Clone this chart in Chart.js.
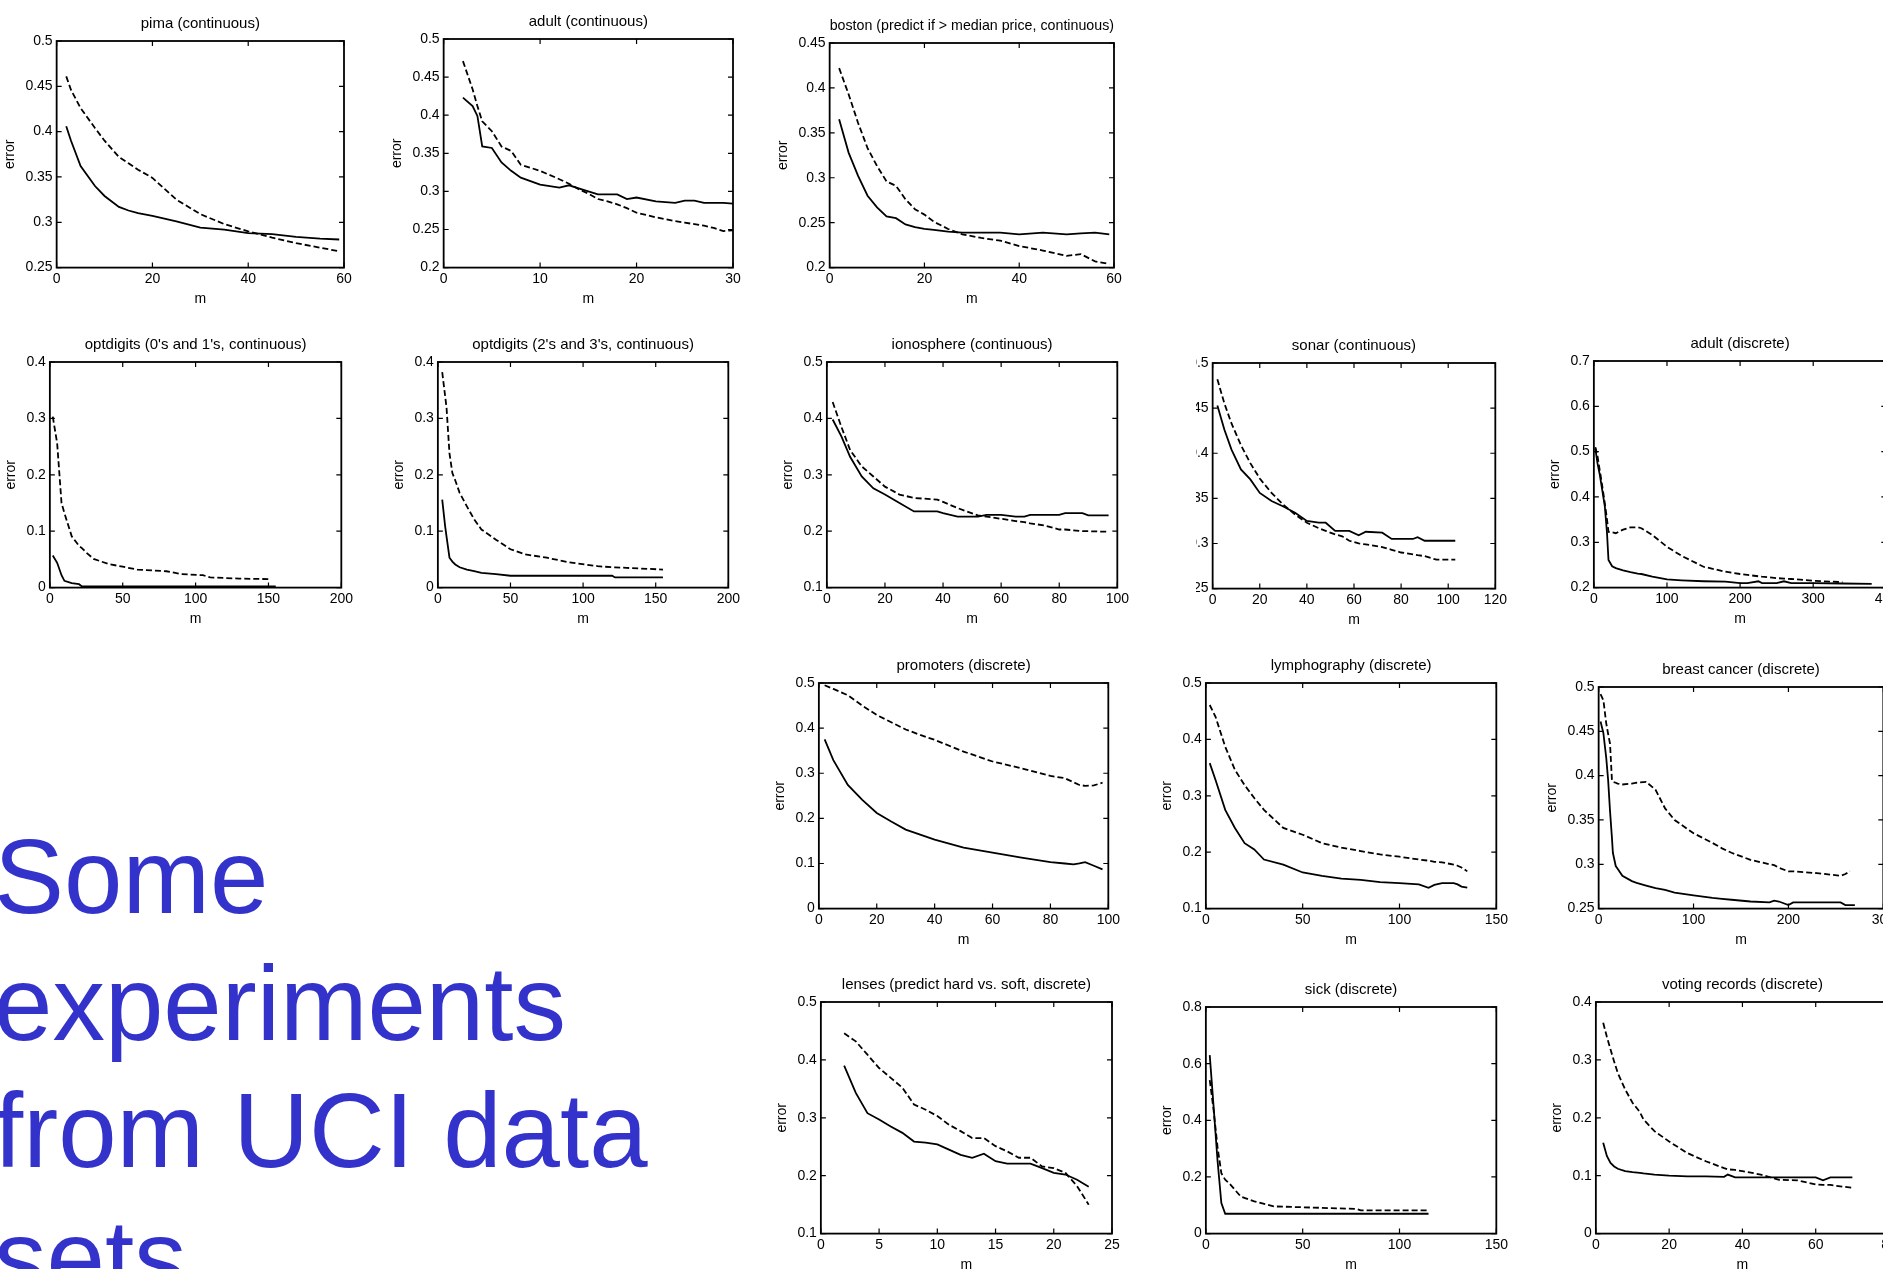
<!DOCTYPE html>
<html>
<head>
<meta charset="utf-8">
<title>Some experiments from UCI data sets</title>
<script src="https://cdn.jsdelivr.net/npm/chart.js@4.4.1/dist/chart.umd.min.js"></script>
<style>
html, body { margin: 0; padding: 0; overflow: hidden; background: #fff; width: 1883px; height: 1269px; }
.panel { position: absolute; }
.panel canvas { display: block; }
#headline {
    position: absolute; left: -6px; top: 813px; width: 680px;
    font-family: "Liberation Sans", Arial, sans-serif;
    font-size: 105px; line-height: 127px; color: #3333cc;
}
</style>
</head>
<body>
<div id="headline">Some experiments from UCI data sets</div>
<script>
// ---- data (m = number of training examples) ----
const pimaM = [2, 3, 5, 8, 10, 13, 15, 17, 20, 25, 30, 35, 40, 45, 50, 55, 59];
const pimaSolid = [0.406, 0.39, 0.362, 0.34, 0.329, 0.317, 0.313, 0.31, 0.307, 0.301, 0.294, 0.292, 0.288, 0.287, 0.284, 0.282, 0.281];
const pimaDashed = [0.461, 0.446, 0.426, 0.404, 0.39, 0.372, 0.365, 0.358, 0.349, 0.325, 0.309, 0.298, 0.29, 0.283, 0.277, 0.272, 0.268];
const pimaXTicks = [0, 20, 40, 60];
const pimaYTicks = [0.25, 0.3, 0.35, 0.4, 0.45, 0.5];

const adultcM = [2, 3, 3.5, 4, 5, 6, 7, 8, 10, 12, 13, 14, 15, 16, 17, 18, 19, 20, 22, 24, 25, 26, 27, 28, 29, 30];
const adultcSolid = [0.423, 0.412, 0.399, 0.359, 0.357, 0.338, 0.327, 0.318, 0.309, 0.305, 0.308, 0.304, 0.3, 0.296, 0.296, 0.296, 0.29, 0.292, 0.287, 0.285, 0.288, 0.288, 0.285, 0.285, 0.285, 0.284];
const adultcDashed = [0.471, 0.434, 0.412, 0.392, 0.379, 0.359, 0.353, 0.335, 0.327, 0.316, 0.31, 0.303, 0.297, 0.29, 0.287, 0.283, 0.278, 0.272, 0.266, 0.261, 0.259, 0.257, 0.255, 0.252, 0.248, 0.249];
const adultcXTicks = [0, 10, 20, 30];
const adultcYTicks = [0.2, 0.25, 0.3, 0.35, 0.4, 0.45, 0.5];

const bostonM = [2, 4, 6, 8, 10, 12, 14, 16, 18, 20, 22, 25, 28, 32, 36, 40, 45, 50, 53, 56, 59];
const bostonSolid = [0.365, 0.328, 0.302, 0.28, 0.267, 0.257, 0.255, 0.248, 0.245, 0.243, 0.242, 0.24, 0.239, 0.239, 0.239, 0.237, 0.239, 0.237, 0.238, 0.239, 0.237];
const bostonDashed = [0.422, 0.393, 0.361, 0.333, 0.313, 0.296, 0.291, 0.276, 0.265, 0.259, 0.251, 0.243, 0.237, 0.233, 0.23, 0.224, 0.219, 0.213, 0.215, 0.207, 0.204];
const bostonXTicks = [0, 20, 40, 60];
const bostonYTicks = [0.2, 0.25, 0.3, 0.35, 0.4, 0.45];

const opt01M = [2, 5, 8, 10, 15, 20, 22, 25, 30, 40, 50, 60, 80, 90, 105, 110, 130, 150, 155];
const opt01Solid = [0.057, 0.044, 0.022, 0.012, 0.008, 0.006, 0.002, 0.002, 0.002, 0.002, 0.002, 0.002, 0.002, 0.002, 0.002, 0.002, 0.002, 0.002, 0.002];
const opt01Dashed = [0.303, 0.256, 0.15, 0.132, 0.091, 0.074, 0.07, 0.062, 0.051, 0.042, 0.037, 0.032, 0.029, 0.024, 0.022, 0.018, 0.016, 0.015, null];
const opt01XTicks = [0, 50, 100, 150, 200];
const opt01YTicks = [0, 0.1, 0.2, 0.3, 0.4];

const opt23M = [3, 5, 6, 8, 10, 12, 15, 20, 25, 30, 40, 50, 60, 75, 90, 110, 120, 122, 130, 155];
const opt23Solid = [0.156, 0.109, 0.09, 0.053, 0.046, 0.041, 0.036, 0.032, 0.029, 0.026, 0.024, 0.021, 0.021, 0.021, 0.021, 0.021, 0.021, 0.018, 0.018, 0.018];
const opt23Dashed = [0.382, 0.34, 0.318, 0.238, 0.203, 0.19, 0.168, 0.144, 0.121, 0.103, 0.085, 0.068, 0.059, 0.053, 0.045, 0.038, 0.036, 0.036, 0.035, 0.032];
const opt23XTicks = [0, 50, 100, 150, 200];
const opt23YTicks = [0, 0.1, 0.2, 0.3, 0.4];

const ionoM = [2, 5, 8, 12, 16, 20, 25, 30, 38, 40, 45, 52, 55, 60, 65, 68, 70, 75, 80, 82, 88, 90, 97];
const ionoSolid = [0.398, 0.368, 0.332, 0.297, 0.276, 0.265, 0.25, 0.235, 0.235, 0.232, 0.226, 0.226, 0.229, 0.229, 0.226, 0.226, 0.229, 0.229, 0.229, 0.232, 0.232, 0.228, 0.228];
const ionoDashed = [0.429, 0.385, 0.344, 0.315, 0.297, 0.279, 0.265, 0.259, 0.256, 0.252, 0.241, 0.228, 0.226, 0.222, 0.218, 0.216, 0.214, 0.21, 0.203, 0.203, 0.2, 0.2, 0.199];
const ionoXTicks = [0, 20, 40, 60, 80, 100];
const ionoYTicks = [0.1, 0.2, 0.3, 0.4, 0.5];

const sonarM = [2, 5, 8, 12, 16, 20, 25, 30, 35, 40, 45, 48, 52, 55, 58, 62, 65, 72, 76, 80, 85, 87, 90, 95, 103];
const sonarSolid = [0.453, 0.426, 0.404, 0.382, 0.371, 0.356, 0.347, 0.341, 0.334, 0.325, 0.323, 0.323, 0.314, 0.314, 0.314, 0.309, 0.313, 0.312, 0.305, 0.305, 0.305, 0.307, 0.303, 0.303, 0.303];
const sonarDashed = [0.482, 0.455, 0.433, 0.409, 0.389, 0.372, 0.356, 0.343, 0.332, 0.323, 0.317, 0.314, 0.31, 0.308, 0.303, 0.3, 0.299, 0.296, 0.293, 0.29, 0.288, 0.287, 0.286, 0.282, 0.282];
const sonarXTicks = [0, 20, 40, 60, 80, 100, 120];
const sonarYTicks = [0.25, 0.3, 0.35, 0.4, 0.45, 0.5];

const adultdM = [2, 5, 8, 10, 15, 18, 20, 25, 30, 40, 50, 60, 65, 80, 100, 120, 150, 180, 200, 210, 225, 230, 250, 260, 270, 300, 340, 380];
const adultdSolid = [0.507, 0.474, 0.45, 0.43, 0.379, 0.32, 0.261, 0.247, 0.243, 0.238, 0.234, 0.231, 0.23, 0.224, 0.218, 0.216, 0.214, 0.213, 0.21, 0.21, 0.214, 0.21, 0.21, 0.214, 0.21, 0.21, 0.209, 0.208];
const adultdDashed = [0.51, 0.49, 0.459, 0.44, 0.386, 0.35, 0.323, 0.322, 0.32, 0.328, 0.333, 0.333, 0.331, 0.316, 0.29, 0.27, 0.246, 0.235, 0.23, 0.228, 0.225, 0.224, 0.221, 0.22, 0.219, 0.215, 0.212, null];
const adultdXTicks = [0, 100, 200, 300, 400];
const adultdYTicks = [0.2, 0.3, 0.4, 0.5, 0.6, 0.7];

const promM = [2, 5, 10, 15, 20, 25, 30, 35, 40, 50, 60, 70, 80, 85, 88, 90, 92, 95, 98];
const promSolid = [0.375, 0.329, 0.274, 0.241, 0.212, 0.193, 0.175, 0.164, 0.153, 0.135, 0.124, 0.113, 0.103, 0.1, 0.098, 0.1, 0.103, 0.095, 0.087];
const promDashed = [0.495, 0.487, 0.473, 0.45, 0.429, 0.413, 0.397, 0.385, 0.374, 0.348, 0.326, 0.311, 0.294, 0.289, 0.28, 0.274, 0.272, 0.273, 0.279];
const promXTicks = [0, 20, 40, 60, 80, 100];
const promYTicks = [0, 0.1, 0.2, 0.3, 0.4, 0.5];

const lymphM = [2, 5, 10, 15, 20, 25, 30, 40, 50, 60, 70, 80, 90, 100, 110, 115, 118, 122, 128, 130, 132, 135];
const lymphSolid = [0.358, 0.328, 0.275, 0.243, 0.216, 0.205, 0.187, 0.178, 0.164, 0.158, 0.153, 0.151, 0.147, 0.145, 0.143, 0.137, 0.142, 0.145, 0.145, 0.143, 0.139, 0.137];
const lymphDashed = [0.461, 0.44, 0.387, 0.346, 0.319, 0.296, 0.275, 0.243, 0.231, 0.216, 0.208, 0.202, 0.196, 0.192, 0.187, 0.185, 0.183, 0.182, 0.178, 0.176, 0.173, 0.166];
const lymphXTicks = [0, 50, 100, 150];
const lymphYTicks = [0.1, 0.2, 0.3, 0.4, 0.5];

const breastM = [2, 5, 8, 10, 12, 14, 15, 18, 20, 25, 35, 40, 50, 60, 70, 80, 100, 120, 130, 140, 160, 180, 185, 190, 200, 205, 230, 255, 260, 265, 270];
const breastSolid = [0.461, 0.448, 0.42, 0.395, 0.36, 0.33, 0.313, 0.298, 0.295, 0.287, 0.281, 0.279, 0.276, 0.273, 0.271, 0.268, 0.265, 0.262, 0.261, 0.26, 0.258, 0.257, 0.259, 0.258, 0.254, 0.257, 0.257, 0.257, 0.254, 0.254, 0.254];
const breastDashed = [0.492, 0.485, 0.459, 0.447, 0.436, 0.395, 0.393, 0.392, 0.391, 0.39, 0.391, 0.392, 0.393, 0.384, 0.363, 0.35, 0.335, 0.324, 0.318, 0.313, 0.305, 0.3, 0.299, 0.296, 0.292, 0.292, 0.29, 0.287, 0.289, 0.292, null];
const breastXTicks = [0, 100, 200, 300];
const breastYTicks = [0.25, 0.3, 0.35, 0.4, 0.45, 0.5];

const lensesM = [2, 3, 4, 5, 6, 7, 8, 9, 10, 11, 12, 13, 14, 15, 16, 17, 18, 19, 20, 21, 22, 23];
const lensesSolid = [0.39, 0.343, 0.308, 0.297, 0.285, 0.274, 0.259, 0.257, 0.254, 0.245, 0.236, 0.231, 0.238, 0.225, 0.221, 0.221, 0.221, 0.213, 0.205, 0.202, 0.193, 0.181];
const lensesDashed = [0.446, 0.432, 0.409, 0.386, 0.369, 0.352, 0.323, 0.314, 0.303, 0.288, 0.277, 0.265, 0.265, 0.251, 0.242, 0.231, 0.231, 0.216, 0.213, 0.205, 0.182, 0.15];
const lensesXTicks = [0, 5, 10, 15, 20, 25];
const lensesYTicks = [0.1, 0.2, 0.3, 0.4, 0.5];

const sickM = [2, 4, 6, 8, 10, 12, 18, 25, 35, 50, 78, 80, 115];
const sickSolid = [0.63, 0.448, 0.26, 0.108, 0.07, 0.07, 0.07, 0.07, 0.07, 0.07, 0.07, 0.07, 0.07];
const sickDashed = [0.542, 0.436, 0.307, 0.213, 0.19, 0.178, 0.131, 0.114, 0.096, 0.093, 0.087, 0.082, 0.082];
const sickXTicks = [0, 50, 100, 150];
const sickYTicks = [0, 0.2, 0.4, 0.6, 0.8];

const votingM = [2, 3, 4, 5, 6, 8, 10, 12, 13, 16, 20, 25, 30, 35, 36, 38, 40, 45, 50, 55, 60, 62, 64, 65, 70];
const votingSolid = [0.157, 0.134, 0.122, 0.116, 0.112, 0.108, 0.106, 0.105, 0.104, 0.102, 0.1, 0.099, 0.099, 0.098, 0.102, 0.097, 0.097, 0.097, 0.097, 0.097, 0.097, 0.092, 0.097, 0.097, 0.097];
const votingDashed = [0.364, 0.34, 0.318, 0.297, 0.277, 0.249, 0.226, 0.21, 0.197, 0.177, 0.159, 0.139, 0.125, 0.113, 0.111, 0.11, 0.108, 0.102, 0.093, 0.092, 0.085, 0.084, 0.084, 0.083, 0.079];
const votingXTicks = [0, 20, 40, 60, 80];
const votingYTicks = [0, 0.1, 0.2, 0.3, 0.4];

// ---- layout: plot box [left, top, right, bottom] in page pixels ----
const panels = [
    {title: 'pima (continuous)', m: pimaM, solid: pimaSolid, dashed: pimaDashed, xt: pimaXTicks, yt: pimaYTicks, box: [57, 41, 344, 268]},
    {title: 'adult (continuous)', m: adultcM, solid: adultcSolid, dashed: adultcDashed, xt: adultcXTicks, yt: adultcYTicks, box: [444, 39, 733, 268]},
    {title: 'boston (predict if > median price, continuous)', m: bostonM, solid: bostonSolid, dashed: bostonDashed, xt: bostonXTicks, yt: bostonYTicks, box: [830, 43, 1114, 268]},
    {title: "optdigits (0's and 1's, continuous)", m: opt01M, solid: opt01Solid, dashed: opt01Dashed, xt: opt01XTicks, yt: opt01YTicks, box: [50, 362, 341, 588]},
    {title: "optdigits (2's and 3's, continuous)", m: opt23M, solid: opt23Solid, dashed: opt23Dashed, xt: opt23XTicks, yt: opt23YTicks, box: [438, 362, 728, 588]},
    {title: 'ionosphere (continuous)', m: ionoM, solid: ionoSolid, dashed: ionoDashed, xt: ionoXTicks, yt: ionoYTicks, box: [827, 362, 1117, 588]},
    {title: 'sonar (continuous)', m: sonarM, solid: sonarSolid, dashed: sonarDashed, xt: sonarXTicks, yt: sonarYTicks, box: [1213, 363, 1496, 589], clipLeft: 1197},
    {title: 'adult (discrete)', m: adultdM, solid: adultdSolid, dashed: adultdDashed, xt: adultdXTicks, yt: adultdYTicks, box: [1594, 361, 1886, 588]},
    {title: 'promoters (discrete)', m: promM, solid: promSolid, dashed: promDashed, xt: promXTicks, yt: promYTicks, box: [819, 683, 1108, 909]},
    {title: 'lymphography (discrete)', m: lymphM, solid: lymphSolid, dashed: lymphDashed, xt: lymphXTicks, yt: lymphYTicks, box: [1206, 683, 1496, 909]},
    {title: 'breast cancer (discrete)', m: breastM, solid: breastSolid, dashed: breastDashed, xt: breastXTicks, yt: breastYTicks, box: [1599, 687, 1884, 909]},
    {title: 'lenses (predict hard vs. soft, discrete)', m: lensesM, solid: lensesSolid, dashed: lensesDashed, xt: lensesXTicks, yt: lensesYTicks, box: [821, 1002, 1112, 1234]},
    {title: 'sick (discrete)', m: sickM, solid: sickSolid, dashed: sickDashed, xt: sickXTicks, yt: sickYTicks, box: [1206, 1007, 1496, 1234]},
    {title: 'voting records (discrete)', m: votingM, solid: votingSolid, dashed: votingDashed, xt: votingXTicks, yt: votingYTicks, box: [1596, 1002, 1889, 1234]}
];

const FONT = '"Liberation Sans", Arial, Helvetica, sans-serif';

// matlab style box with inward ticks on all four sides
const boxPlugin = {
    id: 'matlabBox',
    afterDatasetsDraw(chart) {
        const {ctx, chartArea: a, scales: {x, y}} = chart;
        ctx.save();
        ctx.strokeStyle = '#000';
        ctx.lineWidth = 1.2;
        ctx.beginPath();
        x.ticks.forEach(t => {
            const px = x.getPixelForValue(t.value);
            ctx.moveTo(px, a.bottom); ctx.lineTo(px, a.bottom - 5);
            ctx.moveTo(px, a.top); ctx.lineTo(px, a.top + 5);
        });
        y.ticks.forEach(t => {
            const py = y.getPixelForValue(t.value);
            ctx.moveTo(a.left, py); ctx.lineTo(a.left + 5, py);
            ctx.moveTo(a.right, py); ctx.lineTo(a.right - 5, py);
        });
        ctx.stroke();
        ctx.lineWidth = 1.8;
        ctx.strokeRect(a.left, a.top, a.right - a.left, a.bottom - a.top);
        ctx.restore();
    }
};

function toPoints(m, vals) {
    return m.map((x, i) => ({x: x, y: vals[i]})).filter(p => p.y !== null);
}

const fmt = v => String(Number(v.toFixed(3)));

function makeConfig(p) {
    return {
        type: 'line',
        data: {
            datasets: [
                {data: toPoints(p.m, p.solid), borderColor: '#000', borderWidth: 1.8, pointRadius: 0, fill: false, tension: 0},
                {data: toPoints(p.m, p.dashed), borderColor: '#000', borderWidth: 1.8, borderDash: [6, 3], pointRadius: 0, fill: false, tension: 0}
            ]
        },
        options: {
            responsive: false,
            maintainAspectRatio: false,
            animation: false,
            events: [],
            layout: {padding: {left: 2, right: 14, top: 0, bottom: 2}},
            plugins: {
                legend: {display: false},
                tooltip: {enabled: false},
                title: {
                    display: true, text: p.title, fullSize: false, color: '#000',
                    font: {family: FONT, size: 15, weight: 'normal', lineHeight: 1.2},
                    padding: {top: 4, bottom: 8}
                }
            },
            scales: {
                x: {
                    type: 'linear',
                    min: p.xt[0], max: p.xt[p.xt.length - 1],
                    afterBuildTicks: s => { s.ticks = p.xt.map(v => ({value: v})); },
                    grid: {display: false, drawTicks: false},
                    border: {display: false},
                    ticks: {autoSkip: false, maxRotation: 0, padding: 5, color: '#000',
                        font: {family: FONT, size: 14, lineHeight: 1}, callback: fmt},
                    title: {display: true, text: 'm', color: '#000',
                        font: {family: FONT, size: 14, lineHeight: 1.1}, padding: {top: 0, bottom: 0}}
                },
                y: {
                    type: 'linear',
                    min: p.yt[0], max: p.yt[p.yt.length - 1],
                    afterBuildTicks: s => { s.ticks = p.yt.map(v => ({value: v})); },
                    grid: {display: false, drawTicks: false},
                    border: {display: false},
                    ticks: {autoSkip: false, padding: 4, color: '#000',
                        font: {family: FONT, size: 14, lineHeight: 1}, callback: fmt},
                    title: {display: true, text: 'error', color: '#000',
                        font: {family: FONT, size: 14, lineHeight: 1.1}, padding: {top: 2, bottom: 4}}
                }
            }
        },
        plugins: [boxPlugin]
    };
}

function buildPanel(p) {
    const [L, T, R, B] = p.box;
    const div = document.createElement('div');
    div.className = 'panel';
    document.body.appendChild(div);
    const canvas = document.createElement('canvas');
    div.appendChild(canvas);

    // first pass to find how much room the axes and title take
    let w = (R - L) + 90, h = (B - T) + 80;
    canvas.width = w; canvas.height = h;
    let chart = new Chart(canvas, makeConfig(p));
    let a = chart.chartArea;
    w = Math.round(w + (R - L) - (a.right - a.left));
    h = Math.round(h + (B - T) - (a.bottom - a.top));
    chart.destroy();

    canvas.width = w; canvas.height = h;
    canvas.style.width = w + 'px'; canvas.style.height = h + 'px';
    chart = new Chart(canvas, makeConfig(p));
    a = chart.chartArea;
    const left = L - a.left, top = T - a.top;
    div.style.left = left + 'px';
    div.style.top = top + 'px';
    if (p.clipLeft !== undefined) {
        div.style.clipPath = 'inset(0 0 0 ' + (p.clipLeft - left) + 'px)';
    }
}

panels.forEach(buildPanel);
</script>
</body>
</html>
